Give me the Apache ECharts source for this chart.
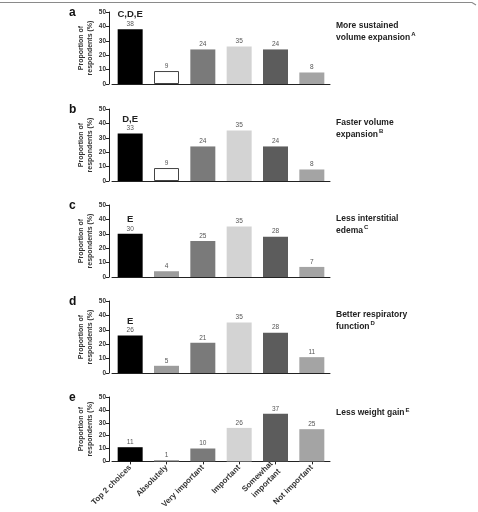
<!DOCTYPE html>
<html>
<head>
<meta charset="utf-8">
<script src="https://cdn.jsdelivr.net/npm/echarts@6/dist/echarts.min.js"></script>
<style>
html,body{margin:0;padding:0;background:#fff;}
#main{width:478px;height:512px;}
</style>
</head>
<body>
<div id="main"></div>
<script>
var categories = ['Top 2 choices','Absolutely','Very important','Important','Somewhat\nimportant','Not important'];
var yTicks = [0,10,20,30,40,50];

var valuesA = [38,9,24,26,24,8];
var valuesB = [33,9,24,35,24,8];
var valuesC = [30,4,25,35,28,7];
var valuesD = [26,5,21,35,28,11];
var valuesE = [11,1,10,26,37,25];

// printed numbers above the bars (panel a's 4th label differs from its bar)
var labelsA = ['38','9','24','35','24','8'];
var labelsB = ['33','9','24','35','24','8'];
var labelsC = ['30','4','25','35','28','7'];
var labelsD = ['26','5','21','35','28','11'];
var labelsE = ['11','1','10','26','37','25'];

var panelLetters = ['a','b','c','d','e'];
var sigMarks = ['C,D,E','D,E','E','E',''];
var panelTitles = [
    ['More sustained','volume expansion','A'],
    ['Faster volume','expansion','B'],
    ['Less interstitial','edema','C'],
    ['Better respiratory','function','D'],
    ['','Less weight gain','E']
];

var allValues = [valuesA,valuesB,valuesC,valuesD,valuesE];
var allLabels = [labelsA,labelsB,labelsC,labelsD,labelsE];

var dom = document.getElementById('main');
var myChart = echarts.init(dom);

var tops = [12,109,205,301,397];
var plotH = 72;
var barColors = ['#000000','#ffffff','#7a7a7a','#d3d3d3','#5c5c5c','#a4a4a4'];
var font = 'Arial, "Liberation Sans", sans-serif';

var grid = [], xAxis = [], yAxis = [], series = [], graphic = [];

graphic.push({
    type:'polyline',
    shape:{points:[[0,2.5],[472,2.5],[476,5]]},
    style:{stroke:'#8a8a8a',lineWidth:1.2,fill:null}
});

for(var i=0;i<5;i++){
    var last = (i==4);
    grid.push({left:112,top:tops[i],width:218,height:plotH});
    xAxis.push({
        type:'category',
        gridIndex:i,
        data:categories,
        axisLine:{lineStyle:{color:'#222',width:1}},
        axisTick:{show:last,alignWithLabel:true,length:3,lineStyle:{color:'#222'}},
        axisLabel:{
            show:last,
            rotate:45,
            interval:0,
            margin:5,
            color:'#333',
            fontSize:8,
            fontWeight:'bold',
            fontFamily:font,
            lineHeight:11
        }
    });
    yAxis.push({
        type:'value',
        gridIndex:i,
        min:0,
        max:50,
        interval:10,
        offset:3,
        name:'Proportion of\nrespondents (%)',
        nameLocation:'middle',
        nameGap:13,
        nameTextStyle:{color:'#333',fontSize:7,fontWeight:'bold',fontFamily:font,lineHeight:9},
        axisLine:{show:true,lineStyle:{color:'#222',width:1}},
        axisTick:{show:true,length:3,lineStyle:{color:'#222'}},
        splitLine:{show:false},
        axisLabel:{color:'#333',fontSize:6.5,fontWeight:'bold',fontFamily:font,margin:3}
    });

    (function(idx){
        var data = [];
        allValues[idx].forEach(function(v,k){
            var item = {value:v,itemStyle:{color:barColors[k]}};
            if(k==1){
                if(idx<2){
                    item.itemStyle = {color:'#ffffff',borderColor:'#444',borderWidth:1};
                }else{
                    item.itemStyle = {color:'#9c9c9c'};
                }
            }
            data.push(item);
        });
        series.push({
            type:'bar',
            xAxisIndex:idx,
            yAxisIndex:idx,
            barWidth:25,
            data:data,
            label:{
                show:true,
                position:'top',
                distance:1,
                formatter:function(p){
                    var txt = '{v|'+allLabels[idx][p.dataIndex]+'}';
                    if(p.dataIndex==0 && sigMarks[idx]){
                        txt = '{t|'+sigMarks[idx]+'}\n'+txt;
                    }
                    return txt;
                },
                rich:{
                    v:{fontSize:6.5,color:'#555',fontFamily:font,lineHeight:8},
                    t:{fontSize:9.5,color:'#222',fontWeight:'bold',fontFamily:font,lineHeight:11}
                }
            }
        });
    })(i);

    graphic.push({
        type:'text',
        left:69,
        top:tops[i]-5,
        style:{text:panelLetters[i],fill:'#111',font:'bold 12px Arial'}
    });

    var t = panelTitles[i];
    var titleText = (t[0] ? '{m|'+t[0]+'}\n' : '')+'{m|'+t[1]+'}{s|'+t[2]+'}';
    graphic.push({
        type:'text',
        left:336,
        top:tops[i]+(t[0] ? 9 : 10),
        style:{
            text:titleText,
            rich:{
                m:{fontSize:8.5,fontWeight:'bold',fill:'#222',fontFamily:font,lineHeight:12},
                s:{fontSize:6,fontWeight:'bold',fill:'#222',fontFamily:font,verticalAlign:'top',padding:[0,0,6,1]}
            }
        }
    });
}

var option = {
    animation:false,
    backgroundColor:'#fff',
    grid:grid,
    xAxis:xAxis,
    yAxis:yAxis,
    series:series,
    graphic:graphic
};

myChart.setOption(option);
window.addEventListener('resize',function(){
    myChart.resize();
});
</script>
</body>
</html>
